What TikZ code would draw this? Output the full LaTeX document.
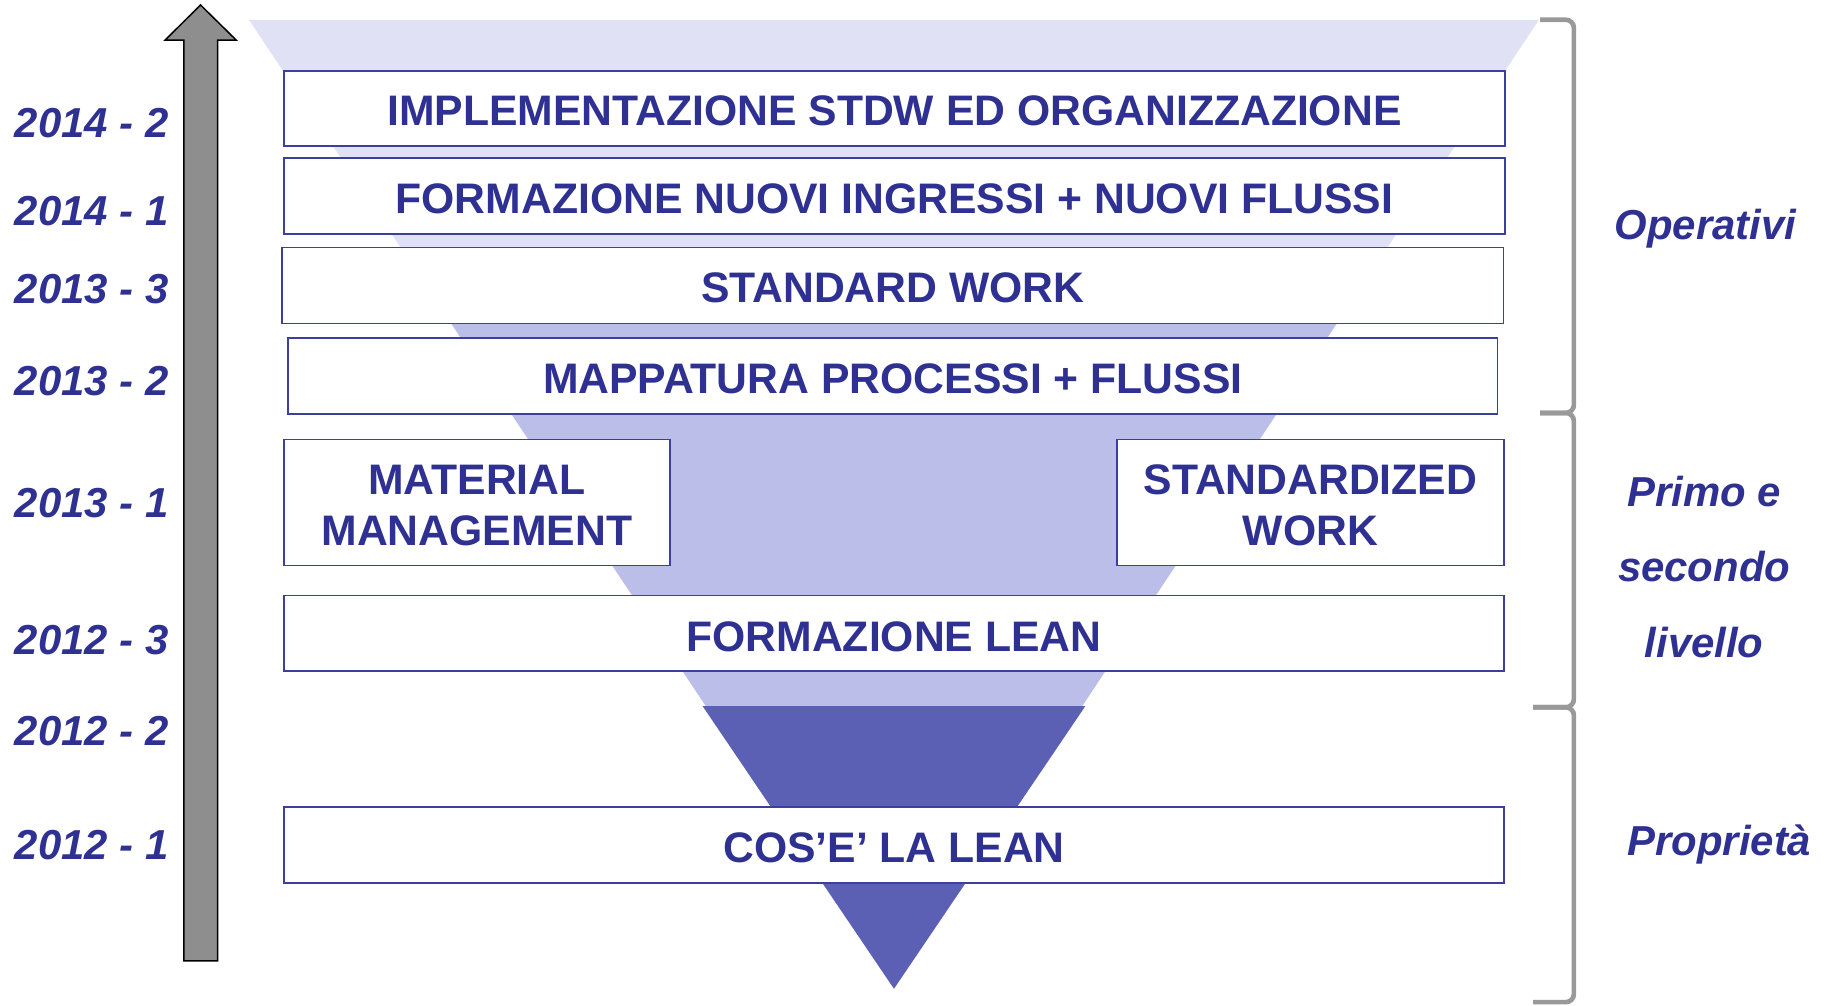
\documentclass[tikz,border=0pt]{standalone}
\usepackage{fontspec}
\setmainfont{Liberation Sans}
\definecolor{navy}{HTML}{2E3192}
\definecolor{boxline}{HTML}{3C3F9E}
\definecolor{flight}{HTML}{E0E1F5}
\definecolor{fmed}{HTML}{BBBEE9}
\definecolor{fdark}{HTML}{5C60B5}
\definecolor{arrowgray}{HTML}{8E8E8E}
\definecolor{bracegray}{HTML}{999999}
\begin{document}
\begin{tikzpicture}[x=1pt,y=-1pt,
  stagebox/.style={draw=boxline, line width=1.4pt, fill=white, inner sep=0pt},
  stagetext/.style={text=navy, font=\fontsize{36.7}{44}\selectfont\bfseries, inner sep=0pt, text height=26.3pt, text depth=0pt},
  yeartext/.style={text=navy, font=\fontsize{36}{43}\selectfont\bfseries\itshape, inner sep=0pt, anchor=base east},
  sidetext/.style={text=navy, font=\fontsize{36}{43}\selectfont\bfseries\itshape, inner sep=0pt, anchor=base},
  bracket/.style={draw=bracegray, line width=4pt, rounded corners=7pt}
]
\useasboundingbox (0,0) rectangle (1568,864);

% funnel
\fill[flight] (214,17) -- (1323,17) -- (1171.25,245) -- (365.75,245) -- cycle;
\fill[fmed] (365.75,245) -- (1171.25,245) -- (930.3,607) -- (606.7,607) -- cycle;
\fill[fdark] (604,607) -- (933,607) -- (768.5,850) -- cycle;

% time arrow
\draw[fill=arrowgray, draw=black, line width=1.3pt, line join=miter]
  (158,826) -- (158,34.4) -- (142,34.4) -- (172.4,4.3) -- (203,34.4) -- (187,34.4) -- (187,826) -- cycle;

% boxes
\node[stagebox, minimum width=1049.7pt, minimum height=64.5pt] (b1) at (768.8,93.2) {};
\node[stagebox, minimum width=1049.5pt, minimum height=65.4pt] (b2) at (768.8,168.7) {};
\node[stagebox, minimum width=1050pt, minimum height=65.3pt] (b3) at (767.5,245.3) {};
\node[stagebox, minimum width=1040pt, minimum height=65.2pt] (b4) at (767.4,323.4) {};
\node[stagebox, minimum width=332pt, minimum height=108.3pt] (b5a) at (410,431.9) {};
\node[stagebox, minimum width=333pt, minimum height=108.3pt] (b5b) at (1126.5,431.9) {};
\node[stagebox, minimum width=1049pt, minimum height=65pt] (b6) at (768.5,544.5) {};
\node[stagebox, minimum width=1049pt, minimum height=65.3pt] (b7) at (768.5,726.2) {};

% box texts
\node[stagetext] (t1) at ([yshift=-1.5pt]b1.center) {IMPLEMENTAZIONE STDW ED ORGANIZZAZIONE};
\node[stagetext] (t2) at ([yshift=-2pt]b2.center) {FORMAZIONE NUOVI INGRESSI + NUOVI FLUSSI};
\node[stagetext] (t3) at ([yshift=-2pt]b3.center) {STANDARD WORK};
\node[stagetext] (t4) at ([yshift=-2pt]b4.center) {MAPPATURA PROCESSI + FLUSSI};
\node[stagetext] (t5a1) at ([yshift=20pt]b5a.center) {MATERIAL};
\node[stagetext] (t5a2) at ([yshift=-24pt]b5a.center) {MANAGEMENT};
\node[stagetext] (t5b1) at ([yshift=20pt]b5b.center) {STANDARDIZED};
\node[stagetext] (t5b2) at ([yshift=-24pt]b5b.center) {WORK};
\node[stagetext] (t6) at ([yshift=-2pt]b6.center) {FORMAZIONE LEAN};
\node[stagetext] (t7) at ([yshift=-2pt]b7.center) {COS’E’ LA LEAN};

% year labels
\node[yeartext] (y1) at (145,118) {2014 - 2};
\node[yeartext] (y2) at (145,194) {2014 - 1};
\node[yeartext] (y3) at (145,261) {2013 - 3};
\node[yeartext] (y4) at (145,340) {2013 - 2};
\node[yeartext] (y5) at (145,445) {2013 - 1};
\node[yeartext] (y6) at (145,563) {2012 - 3};
\node[yeartext] (y7) at (145,641) {2012 - 2};
\node[yeartext] (y8) at (145,739) {2012 - 1};

% brackets
\draw[bracket] (1324,17) -- (1353,17) -- (1353,355) -- (1324,355);
\draw[bracket] (1324,355) -- (1353,355) -- (1353,608) -- (1318,608);
\draw[bracket] (1318,608) -- (1353,608) -- (1353,861.5) -- (1318,861.5);

% side labels
\node[sidetext] (s1) at (1466,206) {Operativi};
\node[sidetext] (s2) at (1465,435) {Primo e};
\node[sidetext] (s3) at (1465,500) {secondo};
\node[sidetext] (s4) at (1465,565.6) {livello};
\node[sidetext] (s5) at (1478,735) {Proprietà};
\end{tikzpicture}
\end{document}
